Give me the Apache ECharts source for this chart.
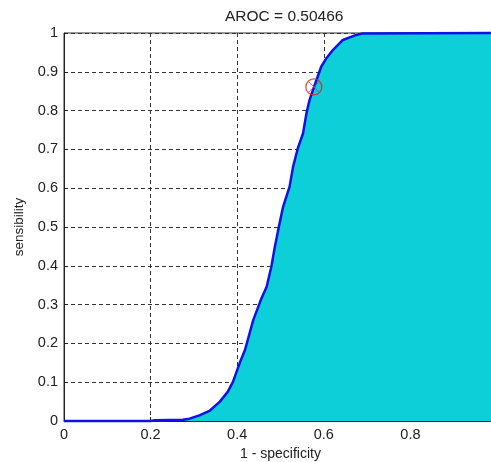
<!DOCTYPE html>
<html>
<head>
<meta charset="utf-8">
<script src="https://cdn.jsdelivr.net/npm/echarts@6/dist/echarts.min.js"></script>
<style>html,body{margin:0;padding:0;background:#fff}#c{width:491px;height:462px}</style>
</head>
<body>
<div id="c"></div>
<script>
var titleText = 'AROC = 0.50466';
var xName = '1 - specificity';
var yName = 'sensibility';
var rocX = [0, 0.2, 0.21, 0.275, 0.29, 0.314, 0.337, 0.36, 0.378, 0.39, 0.406, 0.418, 0.437, 0.456, 0.468, 0.479, 0.487, 0.498, 0.506, 0.521, 0.529, 0.54, 0.552, 0.56, 0.567, 0.579, 0.594, 0.606, 0.621, 0.644, 0.675, 0.69, 1.0];
var rocY = [0, 0, 0.002, 0.003, 0.006, 0.015, 0.027, 0.05, 0.075, 0.1, 0.15, 0.183, 0.26, 0.316, 0.346, 0.398, 0.449, 0.51, 0.552, 0.604, 0.655, 0.703, 0.741, 0.793, 0.827, 0.866, 0.913, 0.935, 0.956, 0.982, 0.995, 0.999, 1];
var opX = [0.577];
var opY = [0.861];

var rocData = rocX.map(function (x, i) { return [x, rocY[i]]; });
var opData = opX.map(function (x, i) { return [x, opY[i]]; });

var font = 'Liberation Sans, Arial, sans-serif';
var chart = echarts.init(document.getElementById('c'), null, {renderer: 'canvas'});
chart.setOption({
  animation: false,
  backgroundColor: '#fff',
  title: {
    text: titleText, left: 220, top: 4,
    textStyle: {fontFamily: font, fontSize: 15.5, fontWeight: 'normal', color: '#222'}
  },
  grid: {left: 64, top: 33, bottom: 41, right: -6, outerBoundsMode: 'none', containLabel: false,
    show: true, borderColor: '#333', borderWidth: 1, backgroundColor: 'transparent'},
  xAxis: {
    type: 'value', min: 0, max: 1, interval: 0.2,
    name: xName, nameLocation: 'middle', nameGap: 25,
    nameTextStyle: {fontFamily: font, fontSize: 14, color: '#222'},
    axisLine: {show: true, onZero: false, lineStyle: {color: '#222', width: 1}},
    axisTick: {show: true, inside: true, length: 4, lineStyle: {color: '#222'}},
    axisLabel: {fontFamily: font, fontSize: 14.5, color: '#222', margin: 6},
    splitLine: {show: true, lineStyle: {color: '#333', type: [4, 3], width: 1}}
  },
  yAxis: {
    type: 'value', min: 0, max: 1, interval: 0.1,
    name: yName, nameLocation: 'middle', nameGap: 38,
    nameTextStyle: {fontFamily: font, fontSize: 13.5, color: '#222'},
    axisLine: {show: true, lineStyle: {color: '#222', width: 1}},
    axisTick: {show: true, inside: true, length: 4, lineStyle: {color: '#222'}},
    axisLabel: {fontFamily: font, fontSize: 14.5, color: '#222', margin: 6,
      formatter: function (v) { return String(Math.round(v * 10) / 10); }},
    splitLine: {show: true, lineStyle: {color: '#333', type: [4, 3], width: 1}}
  },
  series: [
    {
      type: 'line', data: rocData, showSymbol: false, symbol: 'none', clip: false, z: 3,
      lineStyle: {color: '#1010e8', width: 2.5},
      areaStyle: {color: '#0dcfd8', opacity: 1, origin: 'start'}
    },
    {
      type: 'scatter', data: opData, symbol: 'circle', symbolSize: 16, z: 5,
      itemStyle: {color: 'rgba(0,0,0,0)', borderColor: '#e02020', borderWidth: 1.3}
    },
    {
      type: 'scatter', data: opData, symbol: 'path://M0,0L10,10M10,0L0,10', symbolSize: 11, z: 5,
      itemStyle: {color: 'none', borderColor: '#a05050', borderWidth: 1}
    }
  ]
});
</script>
</body>
</html>
